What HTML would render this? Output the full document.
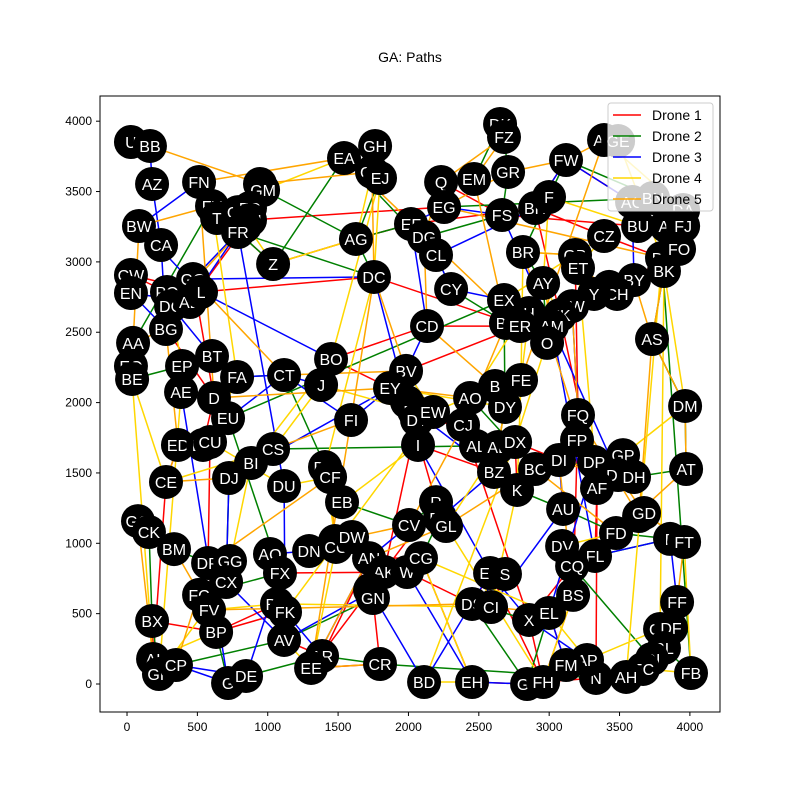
<!DOCTYPE html>
<html><head><meta charset="utf-8"><style>
body{margin:0;background:#fff}
svg text{font-family:"Liberation Sans","DejaVu Sans",sans-serif}
</style></head><body>
<svg id="c" width="800" height="800" xmlns="http://www.w3.org/2000/svg">
<rect width="800" height="800" fill="#fff"/>
<text x="410" y="62" text-anchor="middle" font-size="14">GA: Paths</text>
<g id="lines"></g>
<g id="nodes"></g>
<rect x="100" y="96" width="620" height="616" fill="none" stroke="#000" stroke-width="1"/>
<g id="ticks"></g>
<g id="legend"></g>
</svg>
<script>
const labels=["U","BB","AZ","FN","FY","T","CM","GM","CB","FG","CN","P","FR","Z","EA","GH","GC","EJ","AG","DC","BW","CA","CW","EN","PO","DO","AD","GO","L","BG","AA","EQ","BE","EP","AE","BT","FA","D","EU","CT","BO","J","ED","DB","CU","CE","DJ","BI","CS","DU","FI","DD","CF","EB","GQ","CK","BM","DR","GG","CX","AQ","FX","DN","EZ","CC","DW","FC","FV","BP","BX","AI","GK","CP","G","DE","BQ","FK","AV","AR","EE","CR","AN","AK","W","V","GN","CV","CG","BD","R","FU","GL","I","A","DZ","DT","EW","BV","EY","AO","B","FE","DY","CJ","AL","AB","DX","BZ","K","BC","DI","FQ","FP","DP","GP","DQ","DH","AF","AT","AU","BA","GD","FD","E","FT","DV","FL","CQ","EV","S","BS","DS","CI","X","EL","GF","FF","DF","BL","GI","EC","AH","FB","N","AP","FM","GJ","FH","EH","DK","FZ","GR","EM","Q","EG","FS","BH","F","FW","AX","GE","AC","BN","BU","DA","AI2","FJ","CZ","GB","ET","DL","FO","BK","BY","M","CH","Y","AW","EK","AY","BR","EF","DG","CL","CY","CD","EX","H","BF","ER","AM","O","AS","DM"];
const xs=[28,163,178,512,604,640,945,967,789,874,874,839,789,1038,1542,1763,1741,1798,1627,1755,85,242,28,28,284,313,448,469,526,277,43,28,36,391,384,604,782,618,718,1116,1450,1379,362,540,590,277,725,881,1038,1116,1592,1407,1443,1528,78,156,334,576,732,704,1016,1087,1294,1478,1485,1599,512,583,633,178,185,227,348,718,846,1066,1123,1116,1386,1308,1798,1720,1827,1990,1727,1748,2004,2089,2111,2196,2224,2267,2068,1990,2040,2061,2175,1983,1869,2438,2615,2800,2686,2388,2480,2637,2758,2608,2772,2900,3070,3205,3198,3319,3525,3490,3603,3340,3973,3099,3639,3674,3475,3859,3959,3092,3326,3163,2580,2686,3170,2452,2587,2857,2999,3788,3909,3866,3816,3731,3667,3547,4008,3333,3269,3120,2843,2957,2452,2651,2679,2708,2466,2232,2253,2665,2900,2999,3120,3390,3490,3589,3738,3632,3952,3831,3952,3390,3184,3205,3802,3923,3816,3603,3426,3482,3319,3163,3077,2957,2814,2018,2111,2196,2303,2132,2679,2857,2693,2793,3020,2985,3731,3966];
const ys=[3852,3824,3554,3568,3397,3312,3554,3511,3354,3383,3298,3255,3212,2985,3738,3824,3639,3596,3163,2893,3255,3120,2907,2779,2786,2686,2715,2878,2786,2523,2424,2260,2168,2260,2075,2331,2182,2033,1890,2196,2310,2125,1699,1699,1720,1436,1464,1571,1670,1407,1876,1542,1471,1293,1158,1080,959,860,874,725,924,789,945,1016,974,1045,633,526,370,448,178,71,135,7,57,569,512,313,199,114,142,895,796,796,668,611,1130,895,14,1293,1180,1123,1699,2004,1940,1876,1933,2225,2104,2033,2118,2161,1969,1841,1692,1684,1720,1507,1379,1528,1592,1912,1734,1578,1627,1485,1471,1393,1528,1244,1194,1215,1073,1031,1009,981,910,839,789,782,633,569,547,455,505,391,583,398,256,178,107,50,78,43,171,135,0,14,14,3980,3888,3639,3589,3568,3390,3333,3383,3461,3724,3866,3859,3426,3454,3255,3369,3255,3255,3184,3049,2957,3028,3092,2935,2871,2822,2772,2772,2686,2622,2850,3070,3269,3177,3049,2807,2544,2729,2637,2566,2544,2544,2424,2452,1976];
const route1=["FR","Z","AG","EF","BH","CZ","DL","BY","M","AW","H","ER","CD","BO","EY","A","DZ","I","BZ","K","DX","DI","FP","AF","FL","CQ","X","EL","FM","GJ","EH","CG","AN","AR","AV","BQ","BP","BX","AI","CE","ED","DB","D","GO","PO","CW","L","DC","ER","BV","A","R","EE","CR","GN","AK","DT","CJ","X","FH","EV","DS","W","FX","FK","BP","DR","CU","EU","BG","AD","CN","EG","Q","FS","BU","AC","FW","BH","EK","AF","N","FH","BS","FQ","GB"];
const route2=["GH","GC","EJ","AG","EF","DG","FS","GR","FZ","DK","EM","Q","EG","BN","FO","BK","AS","DM","AT","DH","GP","DP","BC","AO","CJ","AL","CS","BI","DJ","CX","GG","DR","BM","GQ","CK","BX","GK","CP","AV","GN","W","CG","FU","R","CV","EB","DD","CF","CT","FA","BT","EP","BE","EQ","AA","FY","GM","AG","DC","FR","Z","EA","CL","CY","BF","O","AY","BR","FW","DA","DL","FB","BL","GI","CQ","EL","GJ","DS","X","BS","FL","E","FD","AU","K","AB","DY","EX","EU","FX","FC","BP","G","DE","AR","CR","N","AH"];
const route3=["U","BB","AZ","CA","BG","EN","AD","FR","CN","T","FN","BW","L","BO","J","CT","EU","D","AE","G","CP","DE","FX","AQ","DN","EZ","DW","AK","V","BD","EV","S","DS","CI","AU","DI","FQ","AW","BY","AC","FW","BH","CL","CY","EX","BF","O","AM","FL","E","FF","GF","DF","BL","GI","N","AP","X","EV","I","DC","GO","FR","DU","FK","AR","EE","AN","CV","FU","BZ","DZ","EW","BV","CD","EF","EG","FS","DQ","DP","EL","FM","GJ","EH","W","AV","CX","DJ","EY","FI","CT","FA","BT","DO"];
const route4=["CM","GM","EA","GC","AG","Z","CB","FY","FA","CU","DU","CF","EB","I","DT","EW","B","FE","BR","GB","ET","CH","Y","EK","AY","F","BU","AI2","FJ","DA","AX","GE","DL","AH","EC","FB","FT","GD","BA","FD","DV","BS","FH","GL","AB","DY","EY","BV","EW","FK","BQ","FV","FC","BP","AI","BE","CE","CS","J","CJ","AO","AY","AM","DX","BD","EH","CG","EL","AP","GF","BK","DM","GP","AF","ET","CZ","EX","H","FE","K","CI","BQ","AV","EE","CC","DD","DC","EJ","BO","BI","CX","GK","AE","EP","DO"];
const route5=["BB","CM","GC","DC","FI","CS","DJ","CE","ED","BG","AA","BW","FY","T","FG","P","DO","GO","CT","BV","DC","EE","CR","EE","AN","GL","BC","FD","AT","DM","AS","BK","DL","EG","GR","FW","AX","FE","DY","AB","AL","DQ","DI","BS","EL","CI","DS","FV","BM","GQ","AI","CP","DR","CF","EZ","CV","CJ","BF","EM","FZ","Q","DG","CD","B","AO","EY","D","FN","EA","ER","CH","BY","AS","BA","FQ","AW","M","ET","GB","BR","AF","FP","DQ","GD","FT","FF"];
const routes=[route1,route2,route3,route4,route5];
const colors=["#ff0000","#008000","#0000ff","#ffd700","#ffa500"];
const names=["Drone 1","Drone 2","Drone 3","Drone 4","Drone 5"];
const xTicks=[0,500,1000,1500,2000,2500,3000,3500,4000];
const yTicks=[0,500,1000,1500,2000,2500,3000,3500,4000];
const X0=-192,X1=4214,Y0=-199,Y1=4179;
function sx(v){return 100+(v-X0)/(X1-X0)*620;}
function sy(v){return 712-(v-Y0)/(Y1-Y0)*616;}
const NS="http://www.w3.org/2000/svg";
function mk(t,a){const e=document.createElementNS(NS,t);for(const k in a)e.setAttribute(k,a[k]);return e;}
const idx={};labels.forEach((l,i)=>idx[l]=i);
const lg=document.getElementById('lines');
routes.forEach((r,ri)=>{
  const pts=r.filter(l=>idx[l]!==undefined).map(l=>sx(xs[idx[l]]).toFixed(1)+','+sy(ys[idx[l]]).toFixed(1)).join(' ');
  const p=mk('polyline',{points:pts,fill:'none',stroke:colors[ri],'stroke-width':1.5});
  
  
  lg.appendChild(p);
});
const ng=document.getElementById('nodes');
labels.forEach((l,i)=>{
  const g=mk('g',{});
  
  
  g.appendChild(mk('circle',{cx:sx(xs[i]),cy:sy(ys[i]),r:17,fill:'#000'}));
  const t=mk('text',{x:sx(xs[i]),y:sy(ys[i])+6,'text-anchor':'middle','font-size':16,fill:'#fff'});
  t.textContent=l==="AI2"?"AI":l;
  g.appendChild(t);ng.appendChild(g);
});
const tg=document.getElementById('ticks');
xTicks.forEach(v=>{
  const x=sx(v);
  tg.appendChild(mk('line',{x1:x,x2:x,y1:712,y2:716,stroke:'#000'}));
  const t=mk('text',{x:x,y:731,'text-anchor':'middle','font-size':12});
  
  
  t.textContent=v;tg.appendChild(t);
});
yTicks.forEach(v=>{
  const y=sy(v);
  tg.appendChild(mk('line',{x1:96,x2:100,y1:y,y2:y,stroke:'#000'}));
  const t=mk('text',{x:92,y:y+4,'text-anchor':'end','font-size':12});
  
  
  t.textContent=v;tg.appendChild(t);
});
const leg=document.getElementById('legend');
leg.appendChild(mk('rect',{x:608,y:103,width:105,height:108,rx:3,fill:'#fff','fill-opacity':0.8,stroke:'#ccc'}));
names.forEach((n,i)=>{
  const y=115+i*21;
  const g=mk('g',{});
  
  
  g.appendChild(mk('line',{x1:613,x2:641,y1:y,y2:y,stroke:colors[i],'stroke-width':1.5}));
  const t=mk('text',{x:652,y:y+5,'font-size':14});t.textContent=n;g.appendChild(t);
  leg.appendChild(g);
});
</script>
</body></html>
